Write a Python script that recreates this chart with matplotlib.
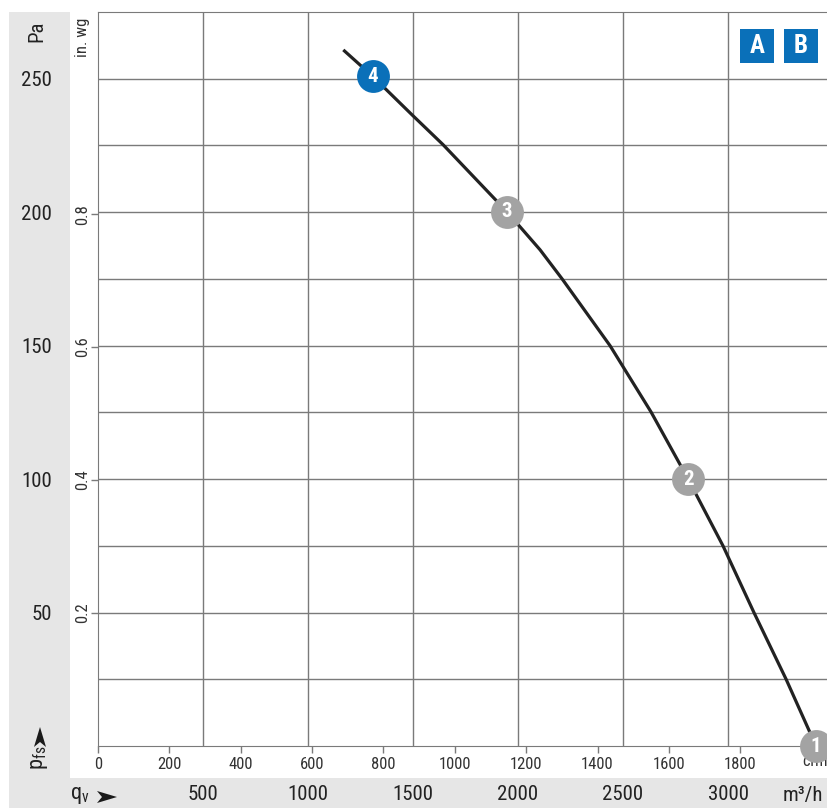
import numpy as np
import matplotlib
matplotlib.use("Agg")
import matplotlib.pyplot as plt
from matplotlib.patches import Rectangle, Polygon

plt.rcParams['font.family'] = ['Roboto Condensed', 'Archivo Narrow', 'Liberation Sans Narrow', 'DejaVu Sans']
plt.rcParams['mathtext.default'] = 'regular'

# fan curve (m3/h, Pa)
flow = [1168, 1308, 1495, 1643, 1948, 2105, 2210, 2438, 2633, 2810, 2976, 3124, 3276, 3419]
pressure = [260.8, 250.9, 236.5, 225.3, 200.1, 185.9, 175, 150, 125.2, 100, 75, 49.9, 25.1, 0]

# operating points
pt_labels = ['1', '2', '3', '4']
pt_flow = [3419, 2810, 1948, 1308]
pt_pressure = [0, 100, 200.1, 250.9]
pt_colors = ['#a3a3a3', '#a3a3a3', '#a3a3a3', '#0a70b9']

pa_ticks = [50, 100, 150, 200, 250]
inwg_ticks = [0.2, 0.4, 0.6, 0.8]
m3h_ticks = [500, 1000, 1500, 2000, 2500, 3000]
cfm_ticks = [0, 200, 400, 600, 800, 1000, 1200, 1400, 1600, 1800]

PA_PER_INWG = 249.089
M3H_PER_CFM = 1.699

W, H = 828, 808
fig = plt.figure(figsize=(W / 100, H / 100), dpi=100)
band = '#e6e6e6'
fig.patches.append(Rectangle((9 / W, 0), 61 / W, (H - 12) / H, transform=fig.transFigure,
                             facecolor=band, edgecolor='none', zorder=-10))
fig.patches.append(Rectangle((9 / W, 0), (W - 9) / W, 30 / H, transform=fig.transFigure,
                             facecolor=band, edgecolor='none', zorder=-10))

ax = fig.add_axes([98 / W, 62 / H, (W - 98) / W, 734 / H])
ax.set_xlim(0, 3476)
ax.set_ylim(0, 275)
grid_c = '#7a7a7a'

ax.set_yticks(pa_ticks)
ax.set_yticks(np.arange(25, 275, 50), minor=True)
ax.set_xticks(m3h_ticks)
ax.grid(True, which='both', color=grid_c, lw=1.0)
ax.tick_params(axis='y', which='both', length=0, pad=33, labelsize=15, labelcolor='#222')
ax.tick_params(axis='x', which='both', length=0, pad=28, labelsize=15, labelcolor='#222')
for s in ['left', 'top', 'bottom']:
    ax.spines[s].set_color(grid_c)
ax.spines['right'].set_visible(False)

ax.plot(flow, pressure, color='#222222', lw=2.3, solid_capstyle='butt', solid_joinstyle='round', zorder=3)
for lab, x, y, c in zip(pt_labels, pt_flow, pt_pressure, pt_colors):
    ax.scatter([x], [y], s=560, color=c, zorder=4, clip_on=False, linewidths=0)
    ax.text(x, y, lab, color='white', fontsize=15, fontweight='bold',
            ha='center', va='center', zorder=5, clip_on=False)

# in. wg axis
sec_y = ax.secondary_yaxis('left', functions=(lambda p: p / PA_PER_INWG, lambda v: v * PA_PER_INWG))
sec_y.set_yticks(inwg_ticks)
sec_y.set_yticklabels([str(v) for v in inwg_ticks], rotation=90, va='center')
sec_y.tick_params(length=5, width=1, color=grid_c, pad=1, labelsize=12, labelcolor='#333')
sec_y.spines['left'].set_visible(False)

# cfm axis
sec_x = ax.secondary_xaxis('bottom', functions=(lambda q: q / M3H_PER_CFM, lambda c: c * M3H_PER_CFM))
sec_x.set_xticks(cfm_ticks)
sec_x.tick_params(length=5, width=1, color=grid_c, pad=3, labelsize=12, labelcolor='#333')
sec_x.spines['bottom'].set_visible(False)

# unit labels
fig.text(37 / W, 1 - 31 / H, 'Pa', rotation=90, fontsize=15, ha='center', va='center', color='#222')
fig.text(83 / W, 1 - 37 / H, 'in. wg', rotation=90, fontsize=12, ha='center', va='center', color='#333')
fig.text(815 / W, 1 - 762 / H, 'cfm', fontsize=12, ha='center', va='center', color='#333', zorder=-1)
fig.text(803 / W, 1 - 795 / H, 'm³/h', fontsize=15, ha='center', va='center', color='#222')
fig.text(80 / W, 1 - 796 / H, 'q$_v$', fontsize=16, ha='center', va='center', color='#222')
fig.text(40 / W, 1 - 758 / H, 'p$_{fs}$', rotation=90, fontsize=16, ha='center', va='center', color='#222')


def arrow_head(cx, cy, up=False):
    # notched arrowhead, 20 px long and 12 px wide, in pixel offsets
    pts = [(10, 0), (-10, 6), (-5, 0), (-10, -6)]
    if up:
        pts = [(-py, px) for px, py in pts]
    xy = [((cx + px) / W, 1 - (cy - py) / H) for px, py in pts]
    fig.patches.append(Polygon(xy, closed=True, transform=fig.transFigure,
                               facecolor='#1a1a1a', edgecolor='none', zorder=2))


arrow_head(107, 797)
arrow_head(40, 737, up=True)

# A / B boxes
for lab, x0 in [('A', 740), ('B', 784)]:
    fig.patches.append(Rectangle((x0 / W, 1 - 63 / H), 34 / W, 34 / H, transform=fig.transFigure,
                                 facecolor='#0a70b9', edgecolor='none', zorder=5))
    fig.text((x0 + 17) / W, 1 - 46 / H, lab, color='white', fontsize=18, fontweight='bold',
             ha='center', va='center', zorder=6)

fig.savefig('out.png', dpi=100)
